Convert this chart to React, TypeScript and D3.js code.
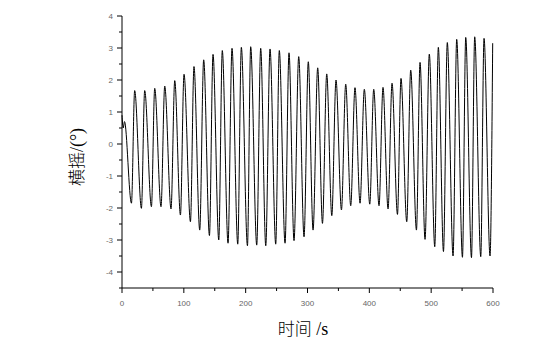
import React from "react";
import * as d3 from "d3";

const startTimes = [0, 2, 4];
const startValues = [0.9, 0.5, 0.7];

const peakTimes = [20.5, 36.7, 52.9, 69.1, 85.3, 100.3, 116.4, 132.1, 147.2, 162.2, 177.9, 193.0, 208.1, 224.3, 239.4, 254.4, 270.1, 285.8, 301.3, 316.5, 331.1, 346.1, 361.8, 376.8, 391.9, 407.1, 422.1, 436.7, 451.2, 466.9, 482.0, 497.0, 511.6, 526.1, 541.3, 555.9, 570.4, 585.5, 599.5];
const peakValues = [1.67, 1.67, 1.74, 1.81, 1.98, 2.18, 2.42, 2.63, 2.8, 2.92, 2.99, 3.02, 3.04, 2.99, 2.97, 2.92, 2.85, 2.73, 2.57, 2.38, 2.19, 2.0, 1.87, 1.76, 1.71, 1.71, 1.77, 1.9, 2.05, 2.31, 2.55, 2.81, 3.02, 3.17, 3.27, 3.33, 3.35, 3.3, 3.15];

const troughTimes = [15.3, 31.4, 47.6, 63.1, 79.3, 94.5, 110.7, 125.7, 141.4, 156.5, 171.5, 187.2, 202.9, 217.9, 232.5, 248.6, 263.7, 278.2, 294.4, 309.0, 324.2, 339.3, 354.9, 369.9, 385.0, 400.7, 415.7, 430.3, 445.5, 460.5, 476.2, 490.1, 505.8, 519.9, 535.4, 550.6, 565.2, 580.2, 595.2];
const troughValues = [-1.85, -2.01, -1.96, -1.96, -2.03, -2.22, -2.43, -2.69, -2.86, -3.0, -3.1, -3.13, -3.18, -3.16, -3.18, -3.13, -3.1, -3.02, -2.9, -2.69, -2.48, -2.24, -2.06, -1.93, -1.85, -1.88, -1.93, -2.03, -2.2, -2.43, -2.69, -2.98, -3.21, -3.36, -3.5, -3.54, -3.55, -3.52, -3.5];

const xMajorTicks = [0, 100, 200, 300, 400, 500, 600];
const xMinorTicks = [50, 150, 250, 350, 450, 550];
const yMajorTicks = [-4, -3, -2, -1, 0, 1, 2, 3, 4];
const yMinorTicks = [-4.5, -3.5, -2.5, -1.5, -0.5, 0.5, 1.5, 2.5, 3.5];

const xLabelCjk = "时间";
const xLabelUnit = " /s";
const yLabelCjk = "横摇";
const yLabelUnit = "/(°)";

export default function App() {
  const x = d3.scaleLinear().domain([0, 600]).range([122, 493]);
  const y = d3.scaleLinear().domain([-4.5, 4]).range([288, 16]);

  const pts: [number, number][] = [];
  startTimes.forEach((t, i) => pts.push([t, startValues[i]]));
  peakTimes.forEach((t, i) => pts.push([t, peakValues[i]]));
  troughTimes.forEach((t, i) => pts.push([t, troughValues[i]]));
  pts.sort((a, b) => a[0] - b[0]);

  const line = d3
    .line<[number, number]>()
    .x((d) => x(d[0]))
    .y((d) => y(d[1]))
    .curve(d3.curveMonotoneX);

  const tickFont = "'Liberation Sans', Arial, sans-serif";
  const cjkFont = "'Noto Sans CJK SC', sans-serif";
  const serifFont = "'Liberation Serif', 'Times New Roman', serif";
  const x0 = x(0);
  const yBase = y(-4.5);

  return (
    <svg
      width={560}
      height={347}
      style={{ position: "absolute", left: 0, top: 0, background: "#fff" }}
    >
      <rect x={0} y={0} width={560} height={347} fill="#fff" />
      <path d={line(pts) || ""} fill="none" stroke="#000" strokeWidth={1} />
      {/* y axis */}
      <line x1={x0} x2={x0} y1={y(4)} y2={yBase} stroke="#000" strokeWidth={1} />
      {yMajorTicks.map((v) => (
        <g key={"ym" + v}>
          <line x1={x0 - 5} x2={x0} y1={y(v)} y2={y(v)} stroke="#000" strokeWidth={1} />
          <text
            x={x0 - 9}
            y={y(v) + 3}
            textAnchor="end"
            fontSize={8}
            fill="#666"
            fontFamily={tickFont}
          >
            {v}
          </text>
        </g>
      ))}
      {yMinorTicks.map((v) => (
        <line key={"yn" + v} x1={x0 - 3} x2={x0} y1={y(v)} y2={y(v)} stroke="#000" strokeWidth={1} />
      ))}
      {/* x axis */}
      <line x1={x0} x2={x(600)} y1={yBase} y2={yBase} stroke="#000" strokeWidth={1} />
      {xMajorTicks.map((v) => (
        <g key={"xm" + v}>
          <line x1={x(v)} x2={x(v)} y1={yBase} y2={yBase + 5} stroke="#000" strokeWidth={1} />
          <text
            x={x(v)}
            y={yBase + 18}
            textAnchor="middle"
            fontSize={8}
            fill="#666"
            fontFamily={tickFont}
          >
            {v}
          </text>
        </g>
      ))}
      {xMinorTicks.map((v) => (
        <line key={"xn" + v} x1={x(v)} x2={x(v)} y1={yBase} y2={yBase + 3} stroke="#000" strokeWidth={1} />
      ))}
      <text x={303} y={335} textAnchor="middle" fontSize={17} fill="#000">
        <tspan fontFamily={cjkFont} fontWeight={300}>{xLabelCjk}</tspan>
        <tspan fontFamily={serifFont} fontSize={18}>{xLabelUnit}</tspan>
      </text>
      <text
        transform="translate(83,157) rotate(-90)"
        textAnchor="middle"
        fontSize={17}
        fill="#000"
      >
        <tspan fontFamily={cjkFont} fontWeight={300}>{yLabelCjk}</tspan>
        <tspan fontFamily={serifFont} fontSize={18}>{yLabelUnit}</tspan>
      </text>
    </svg>
  );
}
